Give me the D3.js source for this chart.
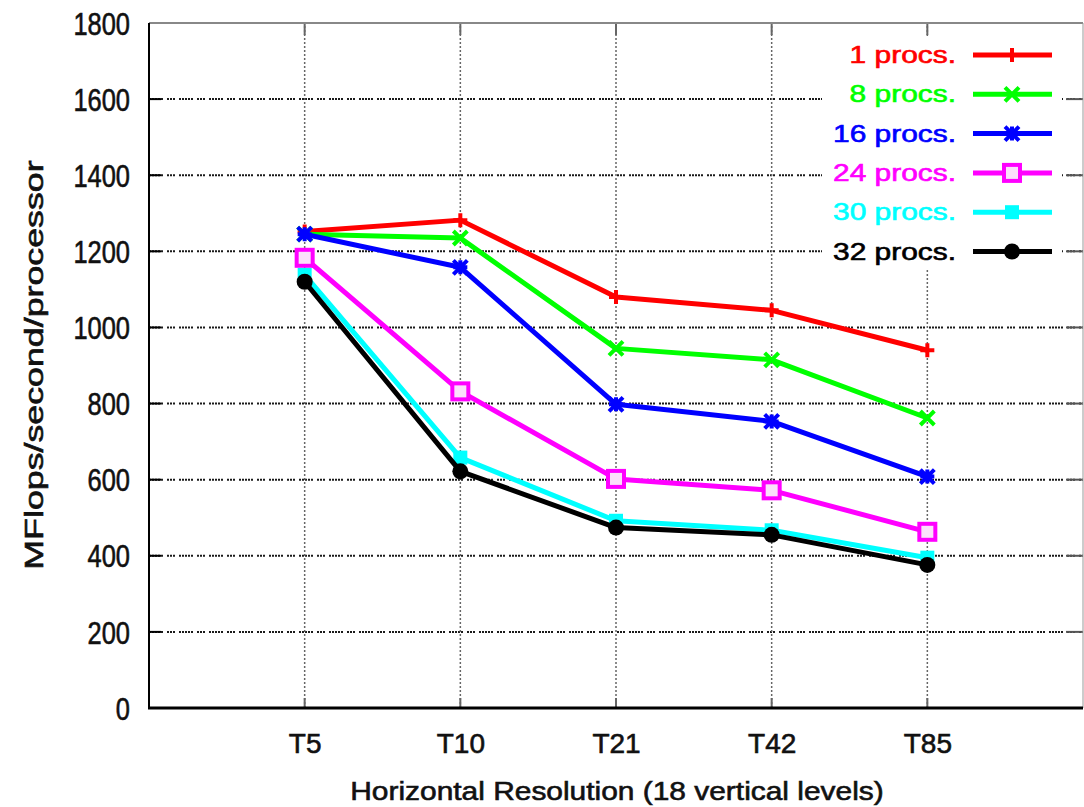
<!DOCTYPE html>
<html lang="en">
<head>
    <meta charset="UTF-8">
    <title>MFlops per processor</title>
    <script src="https://cdn.jsdelivr.net/npm/d3@7/dist/d3.min.js"></script>
    <style>
        body { margin: 0; background: #fff; }
        text { font-family: "Liberation Sans", Arial, sans-serif; stroke-width: 0.6px; }
    </style>
</head>
<body>
<div id="chart"></div>
<script>
    // data
    var resolutions = ["T5", "T10", "T21", "T42", "T85"];
    var seriesNames = ["1 procs.", "8 procs.", "16 procs.", "24 procs.", "30 procs.", "32 procs."];
    var seriesColors = ["#ff0000", "#00ff00", "#0000ff", "#ff00ff", "#00ffff", "#000000"];
    var procs1  = [1252, 1282, 1080, 1045, 940];
    var procs8  = [1245, 1235, 945, 915, 762];
    var procs16 = [1245, 1158, 798, 753, 608];
    var procs24 = [1183, 832, 602, 572, 463];
    var procs30 = [1138, 658, 492, 467, 395];
    var procs32 = [1120, 622, 474, 455, 376];
    var yTicks = [0, 200, 400, 600, 800, 1000, 1200, 1400, 1600, 1800];
    var seriesValues = [procs1, procs8, procs16, procs24, procs30, procs32];

    var width = 1084, height = 807;
    var plotLeft = 149, plotRight = 1083, plotTop = 23, plotBottom = 708;

    var svg = d3.select("#chart").append("svg")
        .attr("width", width)
        .attr("height", height);

    var x = d3.scaleLinear().domain([-1, resolutions.length]).range([plotLeft, plotRight]);
    var y = d3.scaleLinear().domain([0, 1800]).range([plotBottom, plotTop]);

    // stretch text horizontally to a given factor of its natural width
    function stretch(sel, k) {
        sel.each(function () {
            var w = this.getComputedTextLength();
            d3.select(this).attr("textLength", w * k).attr("lengthAdjust", "spacingAndGlyphs");
        });
    }

    // grid
    svg.append("g").selectAll("line")
        .data(yTicks.filter(function (d) { return d > 0 && d < 1800; }))
        .enter().append("line")
        .attr("x1", plotLeft).attr("x2", plotRight)
        .attr("y1", function (d) { return y(d); })
        .attr("y2", function (d) { return y(d); })
        .style("stroke", "#1a1a1a")
        .style("stroke-width", 2)
        .style("stroke-dasharray", "2,1,2,1,2,1,2,1,2,4,2,1,2,1,2,4");

    svg.append("g").selectAll("line")
        .data(resolutions)
        .enter().append("line")
        .attr("x1", function (d, i) { return x(i); })
        .attr("x2", function (d, i) { return x(i); })
        .attr("y1", plotBottom).attr("y2", plotTop)
        .style("stroke", "#666")
        .style("stroke-width", 1.5)
        .style("stroke-dasharray", "2,2");

    // inward ticks
    var tk = svg.append("g").style("stroke", "#000").style("stroke-width", 2);
    yTicks.slice(1, -1).forEach(function (d) {
        tk.append("line").attr("x1", plotLeft).attr("x2", plotLeft + 12).attr("y1", y(d)).attr("y2", y(d));
        tk.append("line").attr("x1", plotRight - 17).attr("x2", plotRight).attr("y1", y(d)).attr("y2", y(d)).style("stroke", "#555");
    });
    resolutions.forEach(function (d, i) {
        tk.append("line").attr("x1", x(i)).attr("x2", x(i)).attr("y1", plotTop).attr("y2", plotTop + 12).style("stroke", "#666");
        tk.append("line").attr("x1", x(i)).attr("x2", x(i)).attr("y1", plotBottom).attr("y2", plotBottom - 10).style("stroke", "#666");
    });

    // frame
    svg.append("line").attr("x1", plotLeft).attr("x2", plotRight).attr("y1", plotTop).attr("y2", plotTop)
        .style("stroke", "#888").style("stroke-width", 2);
    svg.append("line").attr("x1", plotRight).attr("x2", plotRight).attr("y1", plotTop).attr("y2", plotBottom)
        .style("stroke", "#999").style("stroke-width", 1);
    svg.append("line").attr("x1", plotLeft).attr("x2", plotLeft).attr("y1", plotTop).attr("y2", plotBottom + 1)
        .style("stroke", "#000").style("stroke-width", 2);
    svg.append("line").attr("x1", plotLeft - 1).attr("x2", plotRight).attr("y1", plotBottom).attr("y2", plotBottom)
        .style("stroke", "#000").style("stroke-width", 3);

    // y tick labels
    var yAxis = svg.append("g")
        .attr("transform", "translate(" + plotLeft + ",0)")
        .call(d3.axisLeft(y).tickValues(yTicks).tickFormat(d3.format("d")).tickSize(0).tickPadding(20));
    yAxis.select(".domain").remove();
    yAxis.selectAll("text")
        .attr("x", -19)
        .attr("dy", "0.36em")
        .style("font-size", "31px")
        .style("fill", "#111")
        .style("stroke", "#111")
        .call(stretch, 0.82);

    // x tick labels
    var xAxis = svg.append("g")
        .attr("transform", "translate(0," + plotBottom + ")")
        .call(d3.axisBottom(x).tickValues(d3.range(resolutions.length))
            .tickFormat(function (i) { return resolutions[i]; })
            .tickSize(0).tickPadding(0));
    xAxis.select(".domain").remove();
    xAxis.selectAll("text")
        .attr("y", 45)
        .attr("dy", 0)
        .style("font-size", "28px")
        .style("fill", "#111")
        .style("stroke", "#111");

    // axis titles
    svg.append("text")
        .attr("x", 617).attr("y", 800)
        .attr("text-anchor", "middle")
        .style("font-size", "26px")
        .style("fill", "#111")
        .style("stroke", "#111")
        .text("Horizontal Resolution (18 vertical levels)")
        .call(stretch, 1.15);

    svg.append("text")
        .attr("transform", "translate(43,365) rotate(-90)")
        .attr("text-anchor", "middle")
        .style("font-size", "25px")
        .style("fill", "#111")
        .style("stroke", "#111")
        .text("MFlops/second/processor")
        .call(stretch, 1.43);

    // markers
    function marker(g, k, cx, cy, color) {
        var s = 7;
        if (k === 0) {
            g.append("path").attr("d", "M" + (cx - s) + "," + cy + "H" + (cx + s) + "M" + cx + "," + (cy - s) + "V" + (cy + s))
                .style("stroke", color).style("stroke-width", 4).style("fill", "none");
        } else if (k === 1) {
            g.append("path").attr("d", "M" + (cx - s) + "," + (cy - s) + "L" + (cx + s) + "," + (cy + s) + "M" + (cx - s) + "," + (cy + s) + "L" + (cx + s) + "," + (cy - s))
                .style("stroke", color).style("stroke-width", 4).style("fill", "none");
        } else if (k === 2) {
            g.append("path").attr("d", "M" + (cx - s) + "," + (cy - s) + "L" + (cx + s) + "," + (cy + s) + "M" + (cx - s) + "," + (cy + s) + "L" + (cx + s) + "," + (cy - s) +
                "M" + (cx - s) + "," + cy + "H" + (cx + s) + "M" + cx + "," + (cy - s) + "V" + (cy + s))
                .style("stroke", color).style("stroke-width", 4).style("fill", "none");
        } else if (k === 3) {
            g.append("rect").attr("x", cx - 8).attr("y", cy - 8).attr("width", 16).attr("height", 16)
                .style("stroke", color).style("stroke-width", 4).style("fill", "#fbe0fb");
        } else if (k === 4) {
            g.append("rect").attr("x", cx - 7).attr("y", cy - 7).attr("width", 14).attr("height", 14)
                .style("fill", color);
        } else {
            g.append("circle").attr("cx", cx).attr("cy", cy).attr("r", 8).style("fill", color);
        }
    }

    var line = d3.line()
        .x(function (d, i) { return x(i); })
        .y(function (d) { return y(d); });

    seriesValues.forEach(function (vals, k) {
        var g = svg.append("g");
        g.append("path")
            .datum(vals)
            .attr("d", line)
            .style("fill", "none")
            .style("stroke", seriesColors[k])
            .style("stroke-width", 5)
            .style("stroke-linejoin", "round");
        vals.forEach(function (v, i) {
            marker(g, k, x(i), y(v), seriesColors[k]);
        });
    });

    // legend (white box, no border)
    var legend = svg.append("g");
    legend.append("rect")
        .attr("x", 822).attr("y", 36).attr("width", 240).attr("height", 234)
        .style("fill", "#fff");
    seriesNames.forEach(function (name, k) {
        var ly = 55 + k * 39.3;
        legend.append("text")
            .attr("x", 956).attr("y", ly + 8)
            .attr("text-anchor", "end")
            .style("font-size", "23px")
            .style("fill", seriesColors[k])
            .style("stroke", seriesColors[k])
            .text(name)
            .call(stretch, 1.3);
        legend.append("line")
            .attr("x1", 973).attr("x2", 1052).attr("y1", ly).attr("y2", ly)
            .style("stroke", seriesColors[k]).style("stroke-width", 5);
        marker(legend, k, 1012, ly, seriesColors[k]);
    });
</script>
</body>
</html>
